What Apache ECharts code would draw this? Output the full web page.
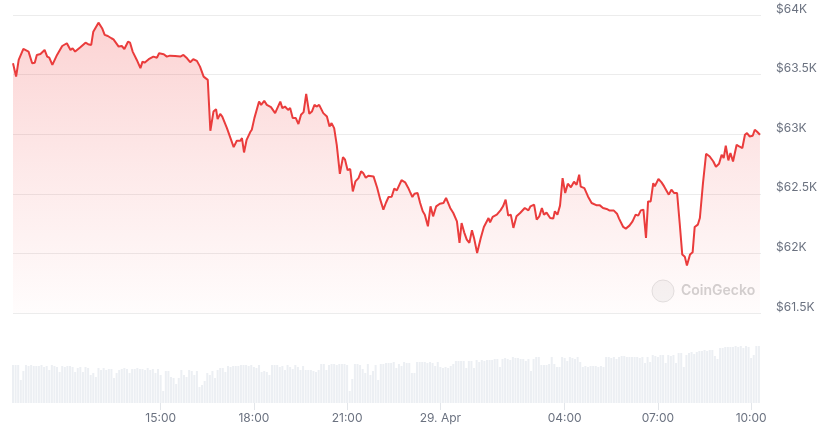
<!DOCTYPE html>
<html><head><meta charset="utf-8">
<script src="https://cdn.jsdelivr.net/npm/echarts@6/dist/echarts.min.js"></script>
<style>html,body{margin:0;padding:0;background:#fff}#c{width:824px;height:431px}</style>
</head><body><div id="c"></div>
<script>
// Price readings (day hh:mm, April 2024)
const priceTimes = [
'28 10:15','28 10:21','28 10:26','28 10:35','28 10:45','28 10:52','28 10:57','28 11:01','28 11:08','28 11:16',
'28 11:21','28 11:25','28 11:31','28 11:40','28 11:50','28 11:59','28 12:02','28 12:06','28 12:10','28 12:15',
'28 12:25','28 12:35','28 12:40','28 12:46','28 12:50','28 13:00','28 13:07','28 13:12','28 13:18','28 13:25',
'28 13:29','28 13:39','28 13:45','28 13:50','28 13:57','28 14:01','28 14:06','28 14:14','28 14:21','28 14:25',
'28 14:29','28 14:37','28 14:46','28 14:53','28 14:57','28 15:06','28 15:12','28 15:18','28 15:28','28 15:38',
'28 15:44','28 15:51','28 15:57','28 16:03','28 16:10','28 16:16','28 16:23','28 16:31','28 16:36','28 16:42',
'28 16:47','28 16:50','28 16:55','28 16:59','28 17:08','28 17:21','28 17:27','28 17:34','28 17:37','28 17:41',
'28 17:46','28 17:53','28 17:56','28 18:01','28 18:04','28 18:10','28 18:14','28 18:20','28 18:25','28 18:33',
'28 18:41','28 18:51','28 18:55','28 19:00','28 19:06','28 19:10','28 19:15','28 19:21','28 19:26','28 19:31',
'28 19:36','28 19:41','28 19:47','28 19:52','28 19:57','28 20:01','28 20:06','28 20:14','28 20:21','28 20:26',
'28 20:30','28 20:35','28 20:40','28 20:46','28 20:52','28 20:56','28 21:01','28 21:06','28 21:11','28 21:16',
'28 21:22','28 21:27','28 21:31','28 21:36','28 21:41','28 21:51','28 21:58','28 22:04','28 22:10','28 22:15',
'28 22:20','28 22:26','28 22:31','28 22:36','28 22:45','28 22:52','28 22:58','28 23:01','28 23:06','28 23:10',
'28 23:16','28 23:21','28 23:26','28 23:30','28 23:36','28 23:41','28 23:46','28 23:52','28 23:59','29 00:06',
'29 00:11','29 00:19','29 00:25','29 00:32','29 00:37','29 00:41','29 00:46','29 00:51','29 00:56','29 01:01',
'29 01:05','29 01:11','29 01:18','29 01:24','29 01:33','29 01:36','29 01:41','29 01:49','29 01:56','29 02:01',
'29 02:06','29 02:11','29 02:16','29 02:21','29 02:27','29 02:34','29 02:37','29 02:43','29 02:50','29 02:54',
'29 03:01','29 03:06','29 03:11','29 03:16','29 03:20','29 03:25','29 03:32','29 03:38','29 03:41','29 03:46',
'29 03:51','29 03:56','29 04:01','29 04:06','29 04:12','29 04:18','29 04:23','29 04:28','29 04:31','29 04:38',
'29 04:45','29 04:52','29 05:02','29 05:08','29 05:14','29 05:21','29 05:27','29 05:35','29 05:41','29 05:45',
'29 05:48','29 05:53','29 05:58','29 06:05','29 06:11','29 06:17','29 06:22','29 06:27','29 06:32','29 06:37',
'29 06:41','29 06:46','29 06:51','29 06:54','29 07:01','29 07:07','29 07:12','29 07:15','29 07:21','29 07:26',
'29 07:31','29 07:37','29 07:42','29 07:47','29 07:52','29 07:56','29 08:02','29 08:07','29 08:11','29 08:17',
'29 08:21','29 08:27','29 08:33','29 08:40','29 08:47','29 08:52','29 08:58','29 09:03','29 09:07','29 09:11',
'29 09:16','29 09:20','29 09:25','29 09:32','29 09:37','29 09:43','29 09:48','29 09:52','29 09:57','29 10:03',
'29 10:07','29 10:11','29 10:17'
];
const prices = [
63595,63483,63623,63715,63693,63595,63600,63665,63673,63707,
63651,63642,63581,63665,63740,63763,63768,63707,63721,63693,
63729,63768,63755,63749,63860,63936,63889,63833,63824,63805,
63796,63735,63740,63715,63776,63768,63693,63623,63554,63609,
63600,63629,63651,63642,63679,63671,63651,63659,63657,63651,
63665,63637,63604,63629,63615,63567,63483,63456,63029,63190,
63210,63126,63171,63148,63051,62892,62945,62945,62967,62847,
62953,63018,63037,63135,63121,63274,63246,63280,63246,63227,
63177,63274,63219,63232,63204,63219,63135,63135,63085,63163,
63185,63338,63171,63190,63246,63232,63246,63177,63148,63065,
63093,63051,62911,62668,62808,62786,62698,62708,62520,62604,
62632,62688,62674,62635,62652,62646,62551,62451,62367,62425,
62473,62475,62543,62529,62614,62596,62549,62520,62473,62501,
62507,62423,62353,62325,62227,62395,62311,62395,62417,62423,
62465,62381,62339,62269,62088,62255,62177,62116,62088,62194,
62130,62004,62130,62222,62297,62261,62306,62325,62361,62395,
62451,62317,62325,62214,62311,62339,62325,62381,62361,62395,
62409,62284,62311,62381,62325,62342,62297,62292,62353,62325,
62401,62632,62507,62585,62555,62601,62576,62660,62560,62547,
62478,62423,62403,62403,62381,62373,62359,62359,62333,62292,
62306,62222,62208,62233,62269,62325,62317,62361,62367,62130,
62436,62436,62590,62562,62624,62596,62562,62576,62493,62534,
62507,62507,62255,61990,61971,61898,61990,62009,62222,62241,
62297,62590,62836,62813,62771,62727,62752,62828,62800,62903,
62780,62842,62771,62911,62897,62884,62995,63009,62981,62987,
63037,63023,62995
];
// Volume bars: one every 5 minutes from 28 Apr 10:15 (relative units)
const volumeStart = '28 10:15';
const volumeStepMinutes = 5;
const volumes = [
38,38,38,23,32,38,37,38,37,37,37,38,
36,37,33,38,37,36,31,37,36,37,37,36,
31,35,36,31,36,35,28,30,26,35,33,35,
33,34,34,25,30,33,34,35,34,30,34,34,
35,34,34,33,35,33,34,30,34,28,12,32,
32,26,25,19,25,33,28,26,33,32,28,32,
16,18,22,30,28,32,25,33,35,35,31,37,
36,37,37,37,38,38,38,37,38,36,35,38,
31,32,31,28,38,38,38,36,37,33,38,36,
34,38,36,33,37,33,33,33,32,31,33,39,
39,33,38,39,39,38,39,39,39,38,12,24,
39,39,38,34,30,39,28,32,38,23,39,39,
40,40,40,41,35,39,37,41,40,40,30,30,
41,41,41,41,40,41,40,37,41,36,35,36,
35,37,39,42,42,42,42,35,42,42,35,43,
41,43,42,43,43,43,44,44,36,44,45,44,
43,46,45,45,44,44,42,44,32,44,46,46,
38,38,38,39,46,39,36,36,46,45,42,46,
45,44,46,41,36,37,36,37,37,37,36,37,
36,46,46,45,46,44,46,47,47,46,46,46,
46,46,45,46,40,46,41,48,47,46,48,48,
40,48,47,48,40,50,50,36,48,50,51,49,
51,52,52,53,52,53,53,47,44,55,55,56,
56,56,56,57,56,57,55,57,56,45,48,57,
57
];
const xTickLabels = ['28 15:00','28 18:00','28 21:00','29 00:00','29 04:00','29 07:00','29 10:00'];
const xRange = ['28 10:15','29 10:19'];
const yTicks = [61500, 62000, 62500, 63000, 63500, 64000];

function toTs(s){ return new Date(2024, 3, +s.slice(0,2), +s.slice(3,5), +s.slice(6,8)).getTime(); }
const priceData = priceTimes.map((t,i)=>[toTs(t), prices[i]]);
const v0 = toTs(volumeStart);
const volData = volumes.map((v,i)=>[v0 + i*volumeStepMinutes*60000, v]);
const tickVals = xTickLabels.map(toTs);
const fmtX = function(val){
  const d = new Date(val); const h = d.getHours(), m = d.getMinutes();
  if (h===0 && m===0) return d.getDate() + '. Apr';
  return String(h).padStart(2,'0') + ':' + String(m).padStart(2,'0');
};
const txt = '#6b7280';
const chart = echarts.init(document.getElementById('c'), null, {renderer:'canvas'});
chart.setOption({
  animation:false,
  backgroundColor:'#ffffff',
  grid:[{left:13,right:63,top:15,bottom:118},{left:13,right:63,top:343,bottom:28}],
  xAxis:[
    {type:'value',gridIndex:0,min:toTs(xRange[0]),max:toTs(xRange[1]),show:false,splitLine:{show:false}},
    {type:'value',gridIndex:1,min:toTs(xRange[0]),max:toTs(xRange[1]),
     axisLine:{show:false},splitLine:{show:false},
     axisTick:{show:true,customValues:tickVals,length:7,lineStyle:{color:'#e3e6ea'}},
     axisLabel:{customValues:tickVals,formatter:fmtX,color:txt,fontSize:12,margin:9,fontFamily:'Inter, sans-serif'}}
  ],
  yAxis:[
    {type:'value',gridIndex:0,position:'right',min:yTicks[0],max:yTicks[yTicks.length-1],interval:500,
     axisLine:{show:false},axisTick:{show:false},
     splitLine:{lineStyle:{color:'#ececec',width:1}},
     axisLabel:{formatter:v=>'$'+(v/1000)+'K',color:txt,fontSize:12,margin:15,verticalAlign:'bottom',fontFamily:'Inter, sans-serif'}},
    {type:'value',gridIndex:1,min:0,max:60,show:false}
  ],
  graphic:[
    {type:'circle',shape:{cx:663,cy:291,r:11},style:{fill:'#f5f5f5',stroke:'#e2e2e2',lineWidth:1},z:1},
    {type:'text',x:681,y:291,style:{text:'CoinGecko',fill:'#d2d2d2',font:'600 14px Inter, sans-serif',verticalAlign:'middle'},z:1}
  ],
  series:[
    {type:'line',xAxisIndex:0,yAxisIndex:0,data:priceData,showSymbol:false,symbol:'none',
     lineStyle:{color:'#ea3c3c',width:2},
     areaStyle:{color:new echarts.graphic.LinearGradient(0,0,0,1,[{offset:0,color:'rgba(240,60,60,0.32)'},{offset:0.5,color:'rgba(240,60,60,0.16)'},{offset:1,color:'rgba(240,60,60,0.02)'}])},
     z:3},
    {type:'bar',xAxisIndex:1,yAxisIndex:1,data:volData,barWidth:2,itemStyle:{color:'#eceff3'}}
  ]
});
</script></body></html>
